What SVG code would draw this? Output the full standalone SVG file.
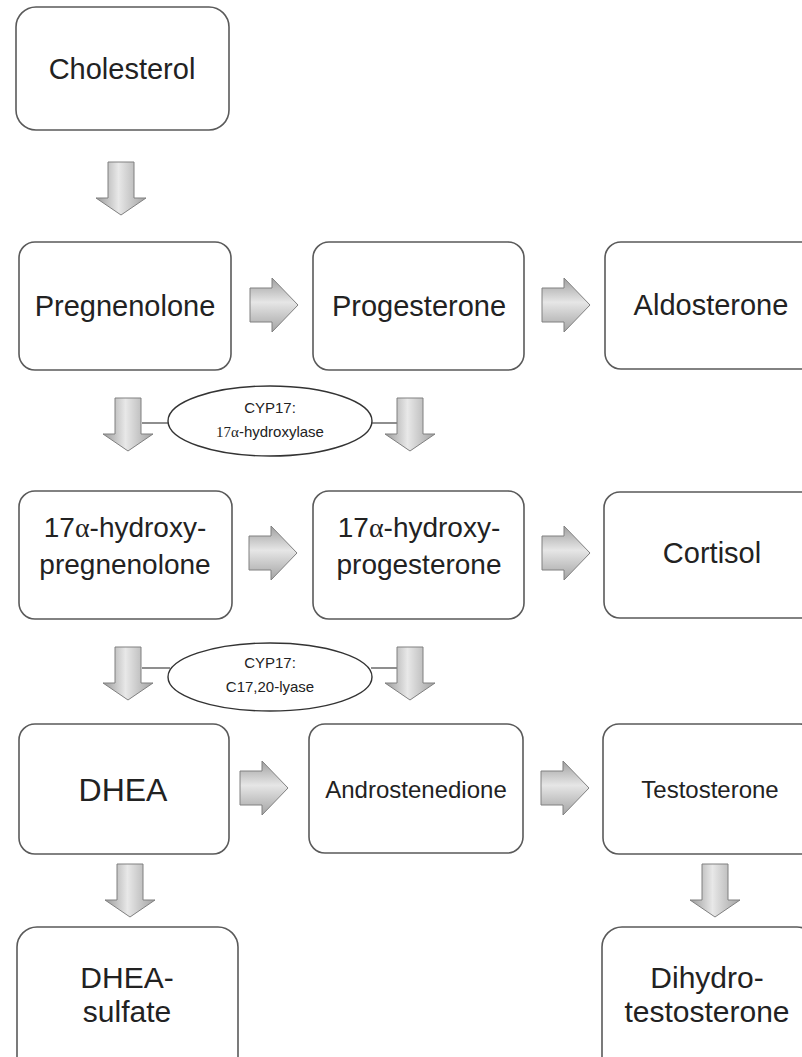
<svg xmlns="http://www.w3.org/2000/svg" xmlns:xlink="http://www.w3.org/1999/xlink" width="802" height="1057" viewBox="0 0 802 1057">
<style>
.box{fill:#fff;stroke:#5a5a5a;stroke-width:1.6}
.t{font-family:"Liberation Sans",Arial,sans-serif;fill:#222;text-anchor:middle}
.g{font-family:"Liberation Serif","Times New Roman",serif}
.ell{fill:#fff;stroke:#333;stroke-width:1.4}
.ln{stroke:#444;stroke-width:1.2}
.da{fill:url(#gd);stroke:#808080;stroke-width:1}
.ra{fill:url(#gr);stroke:#808080;stroke-width:1}
</style>
<defs>
<linearGradient id="gd" x1="0" y1="0" x2="1" y2="0">
<stop offset="0" stop-color="#9a9a9a"/><stop offset="0.45" stop-color="#e8e8e8"/><stop offset="1" stop-color="#a2a2a2"/>
</linearGradient>
<linearGradient id="gr" x1="0" y1="0" x2="0" y2="1">
<stop offset="0" stop-color="#a0a0a0"/><stop offset="0.45" stop-color="#e6e6e6"/><stop offset="1" stop-color="#a4a4a4"/>
</linearGradient>
<path id="darr" d="M-13,0 H13 V36 H25 L0,53 L-25,36 H-13 Z"/>
<path id="rarr" d="M0,-17 H22 V-27 L48,0 L22,27 V17 H0 Z"/>
</defs>

<g id="connectors">
<use href="#darr" class="da" transform="translate(121,162)"/>
<use href="#rarr" class="ra" transform="translate(250,305)"/>
<use href="#rarr" class="ra" transform="translate(542,305)"/>
<line class="ln" x1="142" y1="423" x2="170" y2="423"/>
<line class="ln" x1="371" y1="423" x2="397" y2="423"/>
<use href="#darr" class="da" transform="translate(128,398)"/>
<use href="#darr" class="da" transform="translate(410,398)"/>
<use href="#rarr" class="ra" transform="translate(249,553)"/>
<use href="#rarr" class="ra" transform="translate(542,553)"/>
<line class="ln" x1="142" y1="668" x2="170" y2="668"/>
<line class="ln" x1="371" y1="668" x2="397" y2="668"/>
<use href="#darr" class="da" transform="translate(128,647)"/>
<use href="#darr" class="da" transform="translate(410,647)"/>
<use href="#rarr" class="ra" transform="translate(240,788)"/>
<use href="#rarr" class="ra" transform="translate(541,788)"/>
<use href="#darr" class="da" transform="translate(130,864)"/>
<use href="#darr" class="da" transform="translate(715,864)"/>
</g>

<g id="enzyme1">
<ellipse class="ell" cx="270" cy="421" rx="102" ry="35"/>
<text class="t" x="270" y="413" font-size="15">CYP17:</text>
<text class="t" x="270" y="437" font-size="15"><tspan class="g">17α</tspan>-hydroxylase</text>
</g>
<g id="enzyme2">
<ellipse class="ell" cx="270" cy="677" rx="102" ry="34"/>
<text class="t" x="270" y="668" font-size="15">CYP17:</text>
<text class="t" x="270" y="692" font-size="15">C17,20-lyase</text>
</g>

<g id="cholesterol">
<rect class="box" x="16" y="7" width="213" height="123" rx="20"/>
<text class="t" x="122" y="79" font-size="29">Cholesterol</text>
</g>

<g id="pregnenolone">
<rect class="box" x="19" y="242" width="212" height="128" rx="16"/>
<text class="t" x="125" y="316" font-size="29">Pregnenolone</text>
</g>
<g id="progesterone">
<rect class="box" x="313" y="242" width="211" height="128" rx="16"/>
<text class="t" x="419" y="316" font-size="29">Progesterone</text>
</g>
<g id="aldosterone">
<rect class="box" x="605" y="242" width="212" height="127" rx="16"/>
<text class="t" x="711" y="315" font-size="29">Aldosterone</text>
</g>

<g id="hydroxypregnenolone">
<rect class="box" x="19" y="491" width="213" height="128" rx="16"/>
<text class="t" x="125" y="537" font-size="28">17<tspan class="g">α</tspan>-hydroxy-</text>
<text class="t" x="125" y="574" font-size="28">pregnenolone</text>
</g>
<g id="hydroxyprogesterone">
<rect class="box" x="313" y="491" width="211" height="128" rx="16"/>
<text class="t" x="419" y="537" font-size="28">17<tspan class="g">α</tspan>-hydroxy-</text>
<text class="t" x="419" y="574" font-size="28">progesterone</text>
</g>
<g id="cortisol">
<rect class="box" x="604" y="492" width="213" height="126" rx="16"/>
<text class="t" x="712" y="563" font-size="29">Cortisol</text>
</g>

<g id="dhea">
<rect class="box" x="19" y="724" width="210" height="130" rx="16"/>
<text class="t" x="123" y="801" font-size="32">DHEA</text>
</g>
<g id="androstenedione">
<rect class="box" x="309" y="724" width="214" height="129" rx="16"/>
<text class="t" x="416" y="798" font-size="24">Androstenedione</text>
</g>
<g id="testosterone">
<rect class="box" x="603" y="724" width="213" height="130" rx="16"/>
<text class="t" x="710" y="798" font-size="24">Testosterone</text>
</g>

<g id="dhea-sulfate">
<rect class="box" x="17" y="927" width="221" height="150" rx="20"/>
<text class="t" x="127" y="988" font-size="30">DHEA-</text>
<text class="t" x="127" y="1022" font-size="30">sulfate</text>
</g>
<g id="dihydrotestosterone">
<rect class="box" x="602" y="927" width="215" height="150" rx="20"/>
<text class="t" x="707" y="988" font-size="30">Dihydro-</text>
<text class="t" x="707" y="1022" font-size="30">testosterone</text>
</g>
</svg>
